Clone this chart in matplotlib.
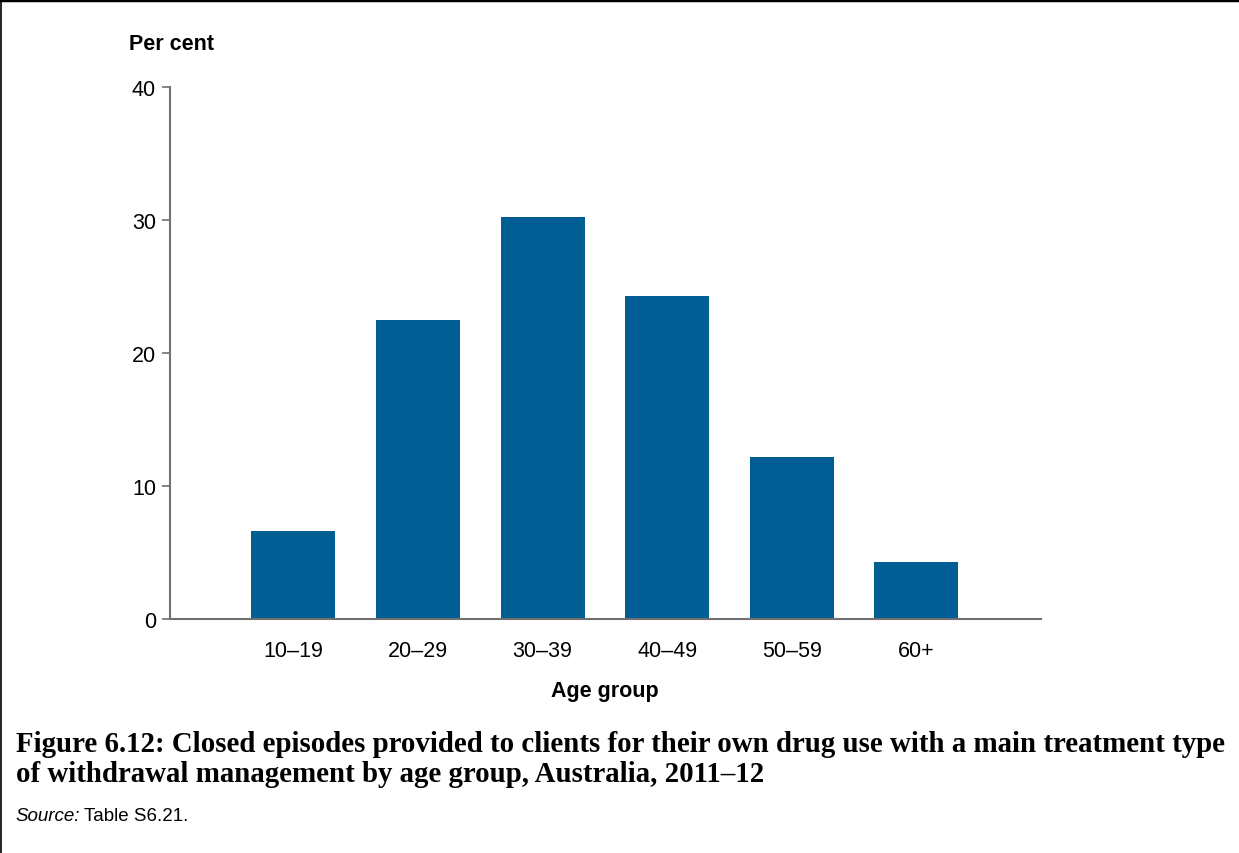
import matplotlib
matplotlib.use("Agg")
import matplotlib.pyplot as plt
from matplotlib.lines import Line2D

categories = ["10–19", "20–29", "30–39", "40–49", "50–59", "60+"]
values = [6.6, 22.5, 30.2, 24.3, 12.2, 4.3]
yticks = [0, 10, 20, 30, 40]

bar_color = "#005E95"
axis_color = "#707070"

fig = plt.figure(figsize=(12.39, 8.54), dpi=100)
W, H = 1239, 854
ax = fig.add_axes([170 / W, 1 - 620 / H, (1041 - 170) / W, (620 - 88) / H])

x = list(range(len(categories)))
ax.bar(x, values, width=0.675, color=bar_color, zorder=2)
ax.set_xlim(-0.99, 6.0)
ax.set_ylim(0, 40)
ax.set_yticks(yticks)
ax.set_yticklabels([str(t) for t in yticks], fontsize=15.5, family="Liberation Sans")
ax.set_xticks(x)
ax.set_xticklabels(categories, fontsize=15.5, family="Liberation Sans")
ax.tick_params(axis="x", length=0, pad=15)
ax.tick_params(axis="y", length=6, width=1.2, color=axis_color, pad=4)
for s in ["top", "right"]:
    ax.spines[s].set_visible(False)
for s in ["left", "bottom"]:
    ax.spines[s].set_color(axis_color)
    ax.spines[s].set_linewidth(1.5)

fig.text(129 / W, 1 - 50 / H, "Per cent", fontsize=15.5, fontweight="bold",
         family="Liberation Sans", va="baseline", ha="left")
fig.text(604.5 / W, 1 - 697 / H, "Age group", fontsize=15.5, fontweight="bold",
         family="Liberation Sans", va="baseline", ha="center")

fig.text(16 / W, 1 - 752 / H,
         "Figure 6.12: Closed episodes provided to clients for their own drug use with a main treatment type",
         fontsize=20.75, fontweight="bold", family="Liberation Serif", va="baseline", ha="left")
fig.text(16 / W, 1 - 782 / H,
         "of withdrawal management by age group, Australia, 2011–12",
         fontsize=20.75, fontweight="bold", family="Liberation Serif", va="baseline", ha="left")

src = fig.text(15 / W, 1 - 821 / H, "Source:", fontsize=13.5, style="italic",
               family="Liberation Sans", va="baseline", ha="left")
fig.canvas.draw()
bb = src.get_window_extent()
fig.text((bb.x1 + 4) / W, 1 - 821 / H, "Table S6.21.", fontsize=13.5,
         family="Liberation Sans", va="baseline", ha="left")

# frame lines
fig.add_artist(Line2D([0, 1], [1 - 1 / H, 1 - 1 / H], transform=fig.transFigure, color="black", lw=2.5))
fig.add_artist(Line2D([0.5 / W, 0.5 / W], [0, 1], transform=fig.transFigure, color="black", lw=1.2))

fig.savefig("out.png", dpi=100)
